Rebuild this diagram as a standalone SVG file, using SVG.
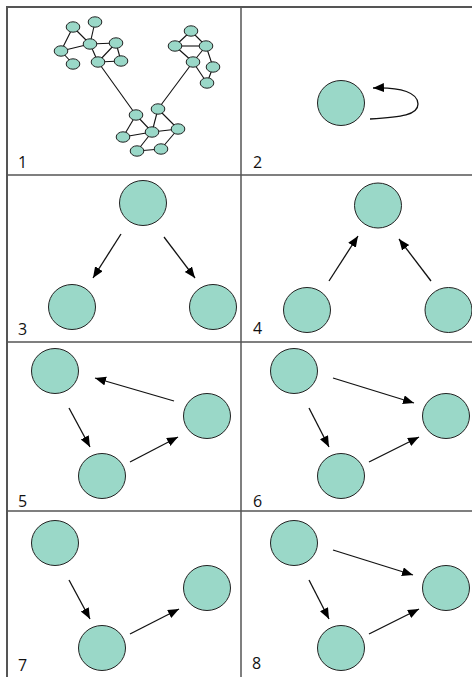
<svg xmlns="http://www.w3.org/2000/svg" width="472" height="677" viewBox="0 0 472 677">
<style>
.n{fill:#9ad8c8;stroke:#222;stroke-width:1}
.s{rx:6.8px;ry:5.2px}
.e{stroke:#111;stroke-width:1.1;fill:none}
.a{stroke:#111;stroke-width:1.3;fill:none;marker-end:url(#ah)}
.g{stroke:#555;fill:none}
.lb{font-family:"Open Sans","DejaVu Sans",sans-serif;font-size:16px;fill:#111}
</style>
<defs>
<marker id="ah" markerUnits="userSpaceOnUse" markerWidth="12" markerHeight="10" refX="11" refY="4.5" orient="auto">
<path d="M0,0 L11,4.5 L0,9 z" fill="#000"/>
</marker>
</defs>
<rect width="472" height="677" fill="#fff"/>
<g id="grid">
<line class="g" x1="7" y1="6" x2="7" y2="677" stroke-width="2"/>
<line class="g" x1="6" y1="7" x2="472" y2="7" stroke-width="2"/>
<line class="g" x1="241" y1="7" x2="241" y2="677" stroke-width="1.5"/>
<line class="g" x1="7" y1="175" x2="472" y2="175" stroke-width="1.3"/>
<line class="g" x1="7" y1="342" x2="472" y2="342" stroke-width="1.3"/>
<line class="g" x1="7" y1="511" x2="472" y2="511" stroke-width="1.3"/>
</g>
<g id="connectors">
<g id="net-edges">
<line class="e" x1="73" y1="27" x2="90" y2="44"/>
<line class="e" x1="73" y1="27" x2="61" y2="51"/>
<line class="e" x1="95" y1="22" x2="90" y2="44"/>
<line class="e" x1="61" y1="51" x2="90" y2="44"/>
<line class="e" x1="61" y1="51" x2="73" y2="64"/>
<line class="e" x1="90" y1="44" x2="116" y2="43"/>
<line class="e" x1="90" y1="44" x2="98" y2="62"/>
<line class="e" x1="116" y1="43" x2="98" y2="62"/>
<line class="e" x1="116" y1="43" x2="121" y2="61"/>
<line class="e" x1="98" y1="62" x2="121" y2="61"/>
<line class="e" x1="98" y1="62" x2="136" y2="115"/>
<line class="e" x1="191" y1="31" x2="175" y2="46"/>
<line class="e" x1="191" y1="31" x2="206" y2="46"/>
<line class="e" x1="175" y1="46" x2="206" y2="46"/>
<line class="e" x1="175" y1="46" x2="193" y2="62"/>
<line class="e" x1="206" y1="46" x2="193" y2="62"/>
<line class="e" x1="206" y1="46" x2="213" y2="67"/>
<line class="e" x1="193" y1="62" x2="207" y2="83"/>
<line class="e" x1="213" y1="67" x2="207" y2="83"/>
<line class="e" x1="193" y1="62" x2="158" y2="109"/>
<line class="e" x1="136" y1="115" x2="123" y2="137"/>
<line class="e" x1="136" y1="115" x2="152" y2="132"/>
<line class="e" x1="158" y1="109" x2="152" y2="132"/>
<line class="e" x1="158" y1="109" x2="178" y2="129"/>
<line class="e" x1="123" y1="137" x2="152" y2="132"/>
<line class="e" x1="152" y1="132" x2="178" y2="129"/>
<line class="e" x1="152" y1="132" x2="137" y2="151"/>
<line class="e" x1="137" y1="151" x2="161" y2="149"/>
<line class="e" x1="161" y1="149" x2="178" y2="129"/>
</g>
<path class="a" d="M370,119 C402,117 418,115 418,104 C418,93 402,87 373,88"/>
<line class="a" x1="121" y1="234" x2="93" y2="278"/>
<line class="a" x1="164" y1="237" x2="195" y2="278"/>
<line class="a" x1="329" y1="281" x2="358" y2="236"/>
<line class="a" x1="431" y1="281" x2="399" y2="239"/>
<line class="a" x1="174" y1="401" x2="95" y2="378"/>
<line class="a" x1="69" y1="408" x2="90" y2="447"/>
<line class="a" x1="130" y1="462" x2="178" y2="437"/>
<line class="a" x1="333" y1="378" x2="414" y2="403"/>
<line class="a" x1="309" y1="408" x2="329" y2="447"/>
<line class="a" x1="369" y1="462" x2="419" y2="437"/>
<line class="a" x1="69" y1="580" x2="90" y2="619"/>
<line class="a" x1="130" y1="634" x2="179" y2="609"/>
<line class="a" x1="333" y1="550" x2="413" y2="575"/>
<line class="a" x1="309" y1="580" x2="329" y2="619"/>
<line class="a" x1="369" y1="634" x2="419" y2="609"/>
</g>
<g id="p1-nodes">
<ellipse class="n" cx="73" cy="27" rx="6.8" ry="5.2"/>
<ellipse class="n" cx="95" cy="22" rx="6.8" ry="5.2"/>
<ellipse class="n" cx="61" cy="51" rx="6.8" ry="5.2"/>
<ellipse class="n" cx="90" cy="44" rx="6.8" ry="5.2"/>
<ellipse class="n" cx="116" cy="43" rx="6.8" ry="5.2"/>
<ellipse class="n" cx="73" cy="64" rx="6.8" ry="5.2"/>
<ellipse class="n" cx="98" cy="62" rx="6.8" ry="5.2"/>
<ellipse class="n" cx="121" cy="61" rx="6.8" ry="5.2"/>
<ellipse class="n" cx="191" cy="31" rx="6.8" ry="5.2"/>
<ellipse class="n" cx="175" cy="46" rx="6.8" ry="5.2"/>
<ellipse class="n" cx="206" cy="46" rx="6.8" ry="5.2"/>
<ellipse class="n" cx="193" cy="62" rx="6.8" ry="5.2"/>
<ellipse class="n" cx="213" cy="67" rx="6.8" ry="5.2"/>
<ellipse class="n" cx="207" cy="83" rx="6.8" ry="5.2"/>
<ellipse class="n" cx="136" cy="115" rx="6.8" ry="5.2"/>
<ellipse class="n" cx="158" cy="109" rx="6.8" ry="5.2"/>
<ellipse class="n" cx="123" cy="137" rx="6.8" ry="5.2"/>
<ellipse class="n" cx="152" cy="132" rx="6.8" ry="5.2"/>
<ellipse class="n" cx="178" cy="129" rx="6.8" ry="5.2"/>
<ellipse class="n" cx="137" cy="151" rx="6.8" ry="5.2"/>
<ellipse class="n" cx="161" cy="149" rx="6.8" ry="5.2"/>
</g>
<g id="p2-node"><ellipse class="n" cx="341" cy="103" rx="23.5" ry="22.5"/></g>
<g id="p3-top"><ellipse class="n" cx="143" cy="203" rx="23.5" ry="22.5"/></g>
<g id="p3-left"><ellipse class="n" cx="72" cy="307" rx="23.5" ry="22.5"/></g>
<g id="p3-right"><ellipse class="n" cx="213" cy="307" rx="23.5" ry="22.5"/></g>
<g id="p4-top"><ellipse class="n" cx="378" cy="205.5" rx="23.5" ry="22.5"/></g>
<g id="p4-left"><ellipse class="n" cx="307" cy="310" rx="23.5" ry="22.5"/></g>
<g id="p4-right"><ellipse class="n" cx="448.5" cy="310" rx="23.5" ry="22.5"/></g>
<g id="p5-a"><ellipse class="n" cx="55" cy="371" rx="23.5" ry="22.5"/></g>
<g id="p5-b"><ellipse class="n" cx="102" cy="476" rx="23.5" ry="22.5"/></g>
<g id="p5-c"><ellipse class="n" cx="207" cy="416" rx="23.5" ry="22.5"/></g>
<g id="p6-a"><ellipse class="n" cx="294" cy="371" rx="23.5" ry="22.5"/></g>
<g id="p6-b"><ellipse class="n" cx="341" cy="476" rx="23.5" ry="22.5"/></g>
<g id="p6-c"><ellipse class="n" cx="446" cy="416" rx="23.5" ry="22.5"/></g>
<g id="p7-a"><ellipse class="n" cx="55" cy="543" rx="23.5" ry="22.5"/></g>
<g id="p7-b"><ellipse class="n" cx="102" cy="648" rx="23.5" ry="22.5"/></g>
<g id="p7-c"><ellipse class="n" cx="207" cy="588" rx="23.5" ry="22.5"/></g>
<g id="p8-a"><ellipse class="n" cx="294" cy="543" rx="23.5" ry="22.5"/></g>
<g id="p8-b"><ellipse class="n" cx="341" cy="648" rx="23.5" ry="22.5"/></g>
<g id="p8-c"><ellipse class="n" cx="446" cy="588" rx="23.5" ry="22.5"/></g>
<g id="labels">
<text class="lb" x="18" y="168">1</text>
<text class="lb" x="253" y="168">2</text>
<text class="lb" x="18" y="335">3</text>
<text class="lb" x="253" y="334">4</text>
<text class="lb" x="18" y="507">5</text>
<text class="lb" x="253" y="507">6</text>
<text class="lb" x="18" y="671">7</text>
<text class="lb" x="252" y="669">8</text>
</g>
</svg>
